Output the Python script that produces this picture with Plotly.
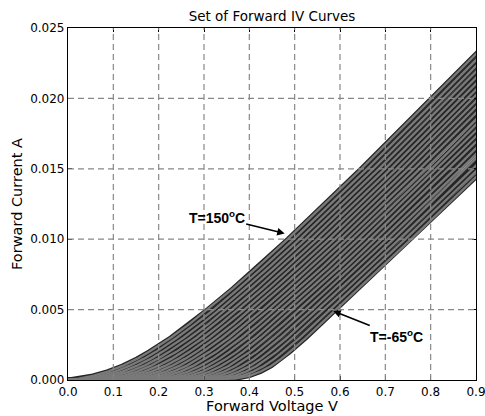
import plotly.graph_objects as go

# Forward current levels (A) at which each curve's forward voltage is read
current_levels = [0.0, 0.0001, 0.0003, 0.0006, 0.001, 0.0015, 0.002, 0.003,
                  0.004, 0.005, 0.0065, 0.008, 0.01, 0.015, 0.02, 0.025]

# Curve temperatures (degC), hottest (leftmost curve) first
temps = [150, 139.8, 129.5, 119.3, 109.0, 98.8, 88.6, 78.3, 68.1, 57.9, 47.6,
         37.4, 27.1, 16.9, 6.7, -3.6, -13.8, -24.0, -34.3, -44.5, -54.8, -65]

# Forward voltage (V) of every curve at each current level (one entry per curve)
v_at_0mA = [0.0, 0.0, 0.0, 0.0, 0.0, 0.0, 0.0, 0.0, 0.0, 0.0, 0.0,
            0.0, 0.0, 0.0, 0.0, 0.0, 0.0, 0.0, 0.0, 0.0, 0.0, 0.0]
v_at_0p1mA = [0.024, 0.040, 0.056, 0.073, 0.089, 0.106, 0.122, 0.138, 0.155, 0.171, 0.188,
              0.204, 0.220, 0.236, 0.253, 0.270, 0.286, 0.302, 0.318, 0.335, 0.352, 0.368]
v_at_0p3mA = [0.055, 0.072, 0.088, 0.104, 0.122, 0.138, 0.154, 0.170, 0.187, 0.203, 0.219,
              0.237, 0.253, 0.269, 0.285, 0.302, 0.318, 0.334, 0.352, 0.368, 0.384, 0.400]
v_at_0p6mA = [0.088, 0.104, 0.120, 0.136, 0.152, 0.168, 0.184, 0.200, 0.216, 0.232, 0.248,
              0.265, 0.281, 0.297, 0.313, 0.329, 0.345, 0.361, 0.377, 0.393, 0.409, 0.425]
v_at_1mA = [0.120, 0.135, 0.151, 0.167, 0.182, 0.198, 0.214, 0.229, 0.245, 0.261, 0.276,
            0.291, 0.307, 0.322, 0.338, 0.354, 0.369, 0.385, 0.401, 0.416, 0.432, 0.448]
v_at_1p5mA = [0.152, 0.167, 0.182, 0.197, 0.212, 0.228, 0.243, 0.258, 0.273, 0.288, 0.303,
              0.319, 0.334, 0.349, 0.364, 0.379, 0.394, 0.410, 0.425, 0.439, 0.455, 0.470]
v_at_2mA = [0.179, 0.194, 0.208, 0.223, 0.239, 0.253, 0.268, 0.283, 0.297, 0.312, 0.327,
            0.341, 0.356, 0.372, 0.386, 0.401, 0.416, 0.430, 0.445, 0.460, 0.474, 0.489]
v_at_3mA = [0.227, 0.240, 0.255, 0.269, 0.284, 0.298, 0.312, 0.326, 0.340, 0.355, 0.368,
            0.383, 0.397, 0.412, 0.425, 0.439, 0.454, 0.468, 0.483, 0.496, 0.511, 0.525]
v_at_4mA = [0.269, 0.282, 0.296, 0.311, 0.324, 0.338, 0.351, 0.366, 0.379, 0.393, 0.406,
            0.421, 0.434, 0.448, 0.461, 0.476, 0.490, 0.503, 0.517, 0.531, 0.545, 0.558]
v_at_5mA = [0.308, 0.322, 0.335, 0.348, 0.362, 0.375, 0.389, 0.403, 0.416, 0.430, 0.443,
            0.456, 0.470, 0.483, 0.496, 0.510, 0.524, 0.538, 0.551, 0.564, 0.578, 0.591]
v_at_6p5mA = [0.364, 0.377, 0.390, 0.403, 0.417, 0.430, 0.443, 0.456, 0.469, 0.483, 0.496,
              0.509, 0.522, 0.535, 0.549, 0.562, 0.575, 0.588, 0.601, 0.615, 0.628, 0.641]
v_at_8mA = [0.417, 0.430, 0.443, 0.456, 0.469, 0.482, 0.495, 0.508, 0.521, 0.534, 0.547,
            0.561, 0.574, 0.587, 0.600, 0.613, 0.626, 0.639, 0.652, 0.665, 0.678, 0.691]
v_at_10mA = [0.485, 0.498, 0.511, 0.524, 0.537, 0.550, 0.563, 0.576, 0.589, 0.602, 0.615,
             0.627, 0.640, 0.653, 0.666, 0.679, 0.692, 0.705, 0.718, 0.731, 0.744, 0.757]
v_at_15mA = [0.647, 0.660, 0.673, 0.686, 0.699, 0.712, 0.725, 0.737, 0.750, 0.763, 0.776,
             0.789, 0.802, 0.815, 0.828, 0.841, 0.854, 0.867, 0.880, 0.893, 0.906, 0.919]
v_at_20mA = [0.803, 0.816, 0.829, 0.842, 0.856, 0.869, 0.882, 0.895, 0.908, 0.921, 0.934,
             0.947, 0.960, 0.973, 0.986, 0.999, 1.012, 1.025, 1.038, 1.051, 1.064, 1.077]
v_at_25mA = [0.957, 0.970, 0.983, 0.996, 1.009, 1.023, 1.036, 1.049, 1.062, 1.075, 1.088,
             1.102, 1.115, 1.128, 1.141, 1.154, 1.168, 1.181, 1.194, 1.207, 1.220, 1.233]

x_ticks = [0.0, 0.1, 0.2, 0.3, 0.4, 0.5, 0.6, 0.7, 0.8, 0.9]
x_tick_text = ["0.0", "0.1", "0.2", "0.3", "0.4", "0.5", "0.6", "0.7", "0.8", "0.9"]
y_ticks = [0.0, 0.005, 0.010, 0.015, 0.020, 0.025]
y_tick_text = ["0.000", "0.005", "0.010", "0.015", "0.020", "0.025"]

voltage_table = [v_at_0mA, v_at_0p1mA, v_at_0p3mA, v_at_0p6mA, v_at_1mA, v_at_1p5mA,
                 v_at_2mA, v_at_3mA, v_at_4mA, v_at_5mA, v_at_6p5mA, v_at_8mA,
                 v_at_10mA, v_at_15mA, v_at_20mA, v_at_25mA]

fig = go.Figure()

curves = []
for i, t in enumerate(temps):
    xs = [row[i] for row in voltage_table]
    curves.append((t, xs))

# dark outline pass
for t, xs in curves:
    fig.add_trace(go.Scatter(x=xs, y=current_levels, mode="lines",
                             line=dict(color="#262626", width=4.8),
                             name=f"T={t}", showlegend=False, hoverinfo="skip"))
# grey core pass
for t, xs in curves:
    fig.add_trace(go.Scatter(x=xs, y=current_levels, mode="lines",
                             line=dict(color="#7a7a7a", width=2.3),
                             name=f"T={t}", showlegend=False))

# dashed grid drawn above the curves
shapes = []
for xv in x_ticks[1:-1]:
    shapes.append(dict(type="line", xref="x", yref="paper", x0=xv, x1=xv, y0=0, y1=1,
                       line=dict(color="#888888", width=1.2, dash="6px,4px"), layer="above"))
for yv in y_ticks[1:-1]:
    shapes.append(dict(type="line", xref="paper", yref="y", x0=0, x1=1, y0=yv, y1=yv,
                       line=dict(color="#888888", width=1.2, dash="6px,4px"), layer="above"))

annotations = [
    dict(x=0.478, y=0.0104, xref="x", yref="y", text="<b>T=150<sup>o</sup>C</b>",
         showarrow=True, ax=-68, ay=-17, arrowhead=2, arrowsize=1, arrowwidth=1.5,
         arrowcolor="black", standoff=0,
         font=dict(family="Liberation Sans", size=14, color="black")),
    dict(x=0.585, y=0.0049, xref="x", yref="y", text="<b>T=-65<sup>o</sup>C</b>",
         showarrow=True, ax=63, ay=25, arrowhead=2, arrowsize=1, arrowwidth=1.5,
         arrowcolor="black", standoff=0,
         font=dict(family="Liberation Sans", size=14, color="black")),
]

fig.update_layout(
    width=485, height=416,
    margin=dict(l=68, r=9, t=28, b=36),
    paper_bgcolor="white", plot_bgcolor="white",
    font=dict(family="DejaVu Sans", size=12, color="black"),
    title=dict(text="Set of Forward IV Curves", x=0.5, xref="paper",
               y=1 - 16 / 416, yref="container", yanchor="middle",
               font=dict(family="DejaVu Sans", size=13.5, color="black")),
    shapes=shapes,
    annotations=annotations,
    showlegend=False,
    hovermode=False,
)
fig.update_xaxes(range=[0, 0.90001], tickvals=x_ticks, ticktext=x_tick_text,
                 showgrid=False, zeroline=False, showline=True, linecolor="black",
                 linewidth=1.2, mirror="ticks", ticks="inside", ticklen=4,
                 tickcolor="black", automargin=False, ticklabeloverflow="allow",
                 title=dict(text="Forward Voltage V", standoff=0,
                            font=dict(family="DejaVu Sans", size=14.5)))
fig.update_yaxes(range=[0, 0.025], tickvals=y_ticks, ticktext=y_tick_text,
                 showgrid=False, zeroline=False, showline=True, linecolor="black",
                 linewidth=1.2, mirror="ticks", ticks="inside", ticklen=4,
                 tickcolor="black", automargin=False, ticklabeloverflow="allow",
                 title=dict(text="Forward Current A", standoff=4,
                            font=dict(family="DejaVu Sans", size=14.5)))

# remove the browser's default page margin so the figure fills the window exactly
fig.write_html("out.html", config={"displayModeBar": False},
               post_script="document.body.style.margin='0';document.body.style.overflow='hidden';")
